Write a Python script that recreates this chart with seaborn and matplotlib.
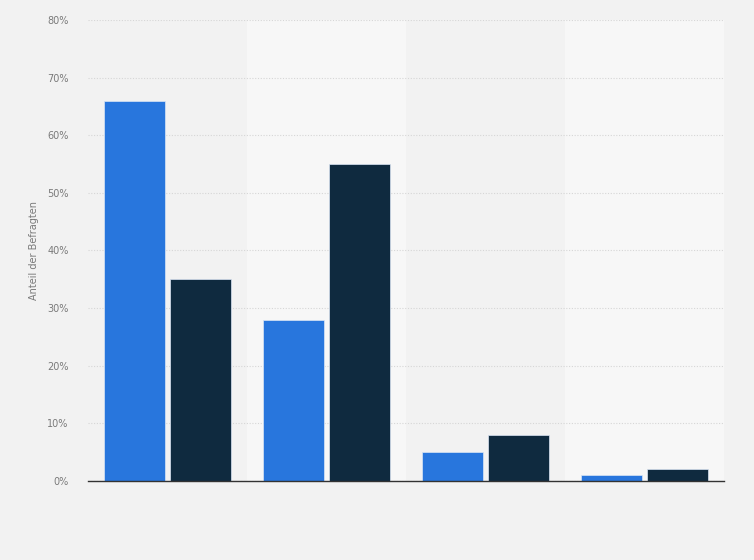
"""
Grouped bar chart: Anteil der Befragten.
"""

import matplotlib
matplotlib.use('Agg')
import matplotlib.pyplot as plt  # noqa: E402
import seaborn as sns  # noqa: E402
import pandas as pd  # noqa: E402
from matplotlib.ticker import FuncFormatter  # noqa: E402

categories = ['Kategorie 1', 'Kategorie 2', 'Kategorie 3', 'Kategorie 4']
series_names = ['Gruppe A', 'Gruppe B']
values_a = [66, 28, 5, 1]
values_b = [35, 55, 8, 2]
y_ticks = [0, 10, 20, 30, 40, 50, 60, 70, 80]

df = pd.DataFrame({
    'category': categories * 2,
    'series': [series_names[0]] * 4 + [series_names[1]] * 4,
    'value': values_a + values_b,
})

sns.set_theme(style='white')
plt.rcParams['font.family'] = ['DejaVu Sans']

bg = '#f2f2f2'
fig = plt.figure(figsize=(7.54, 5.6), dpi=100, facecolor=bg)
ax = fig.add_axes([0.1167, 0.1411, 0.8435, 0.8232])
ax.set_facecolor(bg)

# lighter bands behind every second category
for i in (1, 3):
    ax.axvspan(i - 0.5, i + 0.5, color='#f7f7f7', zorder=0, lw=0)

sns.barplot(
    data=df, x='category', y='value', hue='series',
    palette=['#2876dd', '#0f2a3f'], saturation=1,
    width=0.83, gap=0.09,
    edgecolor='#dbe6f5', linewidth=0.5,
    legend=False, ax=ax, zorder=3
)

ax.set_xlim(-0.5, 3.5)
ax.set_ylim(0, 80)
ax.set_yticks(y_ticks)
ax.yaxis.set_major_formatter(FuncFormatter(lambda v, _: f'{v:.0f}%'))
ax.tick_params(axis='y', length=0, labelsize=7, labelcolor='#7a7a7a', pad=14)
ax.set_xticks([])
ax.set_xlabel('')
ax.set_ylabel('Anteil der Befragten', fontsize=7, color='#7a7a7a', labelpad=6)

ax.grid(True, axis='y', color='#d6d6d6', linestyle=(0, (1, 1.5)), lw=0.8, zorder=1)
for side in ('top', 'right', 'left'):
    ax.spines[side].set_visible(False)
ax.spines['bottom'].set_color('#333333')
ax.spines['bottom'].set_linewidth(1.0)
ax.spines['bottom'].set_zorder(4)

plt.savefig('out.png', dpi=100, facecolor=bg)
plt.close()
